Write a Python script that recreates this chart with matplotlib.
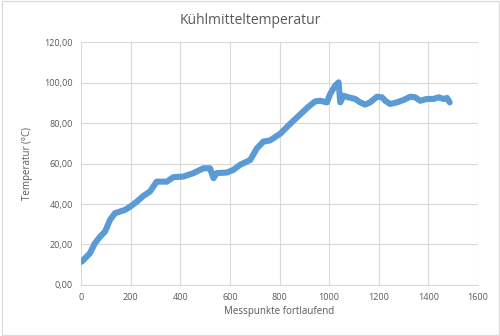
import matplotlib.pyplot as plt
from matplotlib.ticker import FuncFormatter
from matplotlib.patches import Rectangle

# Messpunkte
x_points = [3, 36, 56, 77, 97, 117, 137, 157, 177, 198, 225, 251, 278, 305, 346,
            372, 413, 453, 493, 520, 534, 547, 588, 614, 641, 682, 709, 735, 762,
            803, 843, 883, 917, 944, 964, 991, 1004, 1024, 1038, 1045, 1058, 1078,
            1105, 1125, 1145, 1165, 1193, 1213, 1226, 1246, 1273, 1300, 1327, 1347,
            1367, 1394, 1421, 1441, 1461, 1475, 1486]
temp_values = [11.5, 15.7, 20.6, 23.9, 26.4, 32.2, 35.5, 36.3, 37.1, 38.7, 41.2, 44.0,
               46.2, 51.1, 51.1, 53.3, 53.6, 55.3, 57.7, 57.7, 52.8, 55.3, 55.6, 56.9,
               59.4, 61.8, 67.6, 70.9, 71.5, 74.8, 79.7, 84.3, 88.2, 90.8, 91.1, 90.3,
               94.4, 98.5, 100.2, 90.3, 93.6, 92.8, 92.0, 90.3, 89.2, 90.3, 93.1, 92.8,
               91.1, 89.5, 90.3, 91.5, 93.1, 92.8, 91.1, 92.0, 92.0, 92.8, 92.0, 92.5,
               90.3]

x_ticks = [0, 200, 400, 600, 800, 1000, 1200, 1400, 1600]
y_ticks = [0, 20, 40, 60, 80, 100, 120]

text_col = '#595959'
grid_col = '#D9D9D9'
plt.rcParams['font.family'] = ['Open Sans', 'DejaVu Sans']

fig = plt.figure(figsize=(5.0, 3.36), dpi=100)
ax = fig.add_axes([0.162, 0.152, 0.794, 0.722])

ax.plot(x_points, temp_values, color='#5B9BD5', linewidth=4.4,
        solid_capstyle='round', solid_joinstyle='round', zorder=3)

ax.set_xlim(0, 1600)
ax.set_ylim(0, 120)
ax.set_xticks(x_ticks)
ax.set_yticks(y_ticks)
ax.yaxis.set_major_formatter(FuncFormatter(lambda v, p: f'{v:.2f}'.replace('.', ',')))
ax.grid(True, color=grid_col, linewidth=0.8)
ax.set_axisbelow(True)
for s in ax.spines.values():
    s.set_visible(False)
ax.spines['bottom'].set_visible(True)
ax.spines['bottom'].set_color(grid_col)
ax.tick_params(length=0, labelsize=6.5, colors=text_col, pad=6)

fig.text(0.5, 0.94, 'Kühlmitteltemperatur', fontsize=10, color=text_col,
         ha='center', va='center')
ax.set_xlabel('Messpunkte fortlaufend', fontsize=7, color=text_col, labelpad=3)
ax.set_ylabel('Temperatur (°C)', fontsize=7, color=text_col, labelpad=8)

fig.patches.append(Rectangle((0.003, 0.004), 0.994, 0.992, transform=fig.transFigure,
                             fill=False, edgecolor='#D9D9D9', linewidth=0.8))

fig.savefig('out.png', dpi=100)
